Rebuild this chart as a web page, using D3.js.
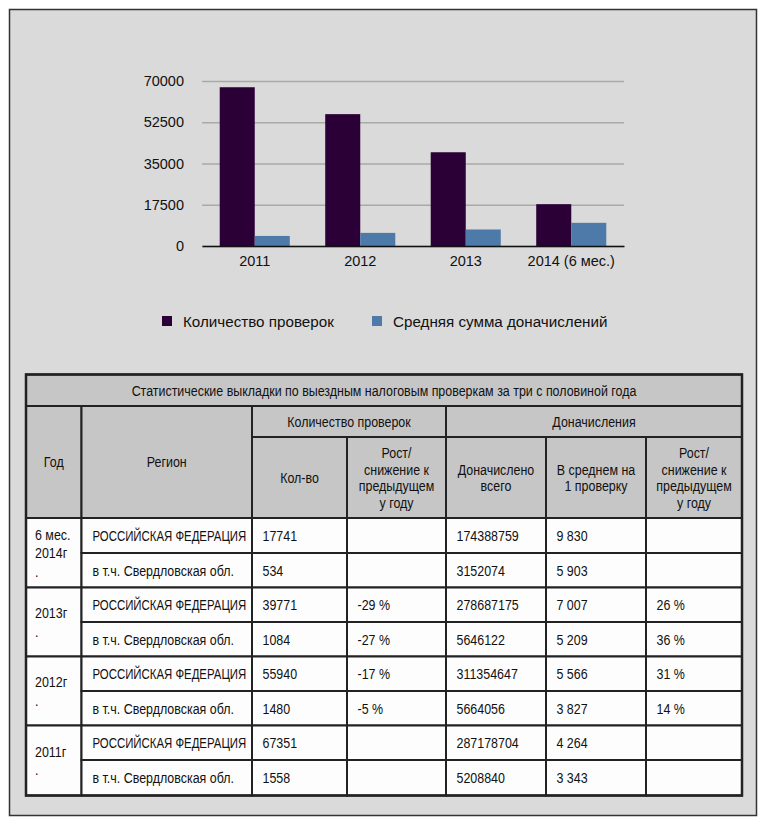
<!DOCTYPE html>
<html>
<head>
<meta charset="utf-8">
<script src="https://cdn.jsdelivr.net/npm/d3@7"></script>
<style>
  body { margin: 0; background: #fff; }
  svg { display: block; }
</style>
</head>
<body>
<div id="chart"></div>
<script>
// chart data
var categories = ["2011", "2012", "2013", "2014 (6 мес.)"];
var seriesNames = ["Количество проверок", "Средняя сумма доначислений"];
var checksCount = [67351, 55940, 39771, 17741];
var avgAdded = [4264, 5566, 7007, 9830];
var yTicks = [0, 17500, 35000, 52500, 70000];
var colors = ["#2b0036", "#4d7aa8"];

// table data
var tableTitle = "Статистические выкладки по выездным налоговым проверкам за три с половиной года";
var yearLabels = [["6 мес.", "2014г", "."], ["2013г", "."], ["2012г", "."], ["2011г", "."]];
var regions = ["РОССИЙСКАЯ ФЕДЕРАЦИЯ", "в т.ч. Свердловская обл."];
var qty = ["17741", "534", "39771", "1084", "55940", "1480", "67351", "1558"];
var qtyChange = ["", "", "-29 %", "-27 %", "-17 %", "-5 %", "", ""];
var addedTotal = ["174388759", "3152074", "278687175", "5646122", "311354647", "5664056", "287178704", "5208840"];
var addedAvg = ["9 830", "5 903", "7 007", "5 209", "5 566", "3 827", "4 264", "3 343"];
var addedChange = ["", "", "26 %", "36 %", "31 %", "14 %", "", ""];
var subHeaders = [["Кол-во"], ["Рост/", "снижение к", "предыдущем", "у году"], ["Доначислено", "всего"],
                  ["В среднем на", "1 проверку"], ["Рост/", "снижение к", "предыдущем", "у году"]];

var W = 768, H = 827;
var svg = d3.select("#chart").append("svg").attr("width", W).attr("height", H);

// frame
svg.append("rect").attr("x", 9.5).attr("y", 9.5).attr("width", 747).attr("height", 806)
  .attr("fill", "#dadada").attr("stroke", "#333").attr("stroke-width", 1.5);

var fontChart = "'Liberation Sans', Arial, sans-serif";

// ---- bar chart ----
var x0 = d3.scaleBand().domain(categories).range([202, 624]).paddingInner(0.336).paddingOuter(0.168);
var x1 = d3.scaleBand().domain(seriesNames).range([0, x0.bandwidth()]);
var y = d3.scaleLinear().domain([0, 70000]).range([246, 81]);

var yAxis = svg.append("g").attr("transform", "translate(202,0)")
  .call(d3.axisLeft(y).tickValues(yTicks).tickSize(-422).tickPadding(18).tickFormat(d3.format("d")));
yAxis.select(".domain").remove();
yAxis.selectAll("line").attr("stroke", "#a9a9a9").attr("stroke-width", 1.5);
yAxis.selectAll("text").attr("font-family", fontChart).attr("font-size", 14.5).attr("fill", "#111");

var rows = categories.map(function(c, i) { return {cat: c, vals: [checksCount[i], avgAdded[i]]}; });
var groups = svg.append("g").selectAll("g").data(rows).join("g")
  .attr("transform", function(d) { return "translate(" + x0(d.cat) + ",0)"; });
groups.selectAll("rect").data(function(d) { return d.vals.map(function(v, j) { return {s: seriesNames[j], v: v, j: j}; }); })
  .join("rect")
  .attr("x", function(d) { return x1(d.s); })
  .attr("y", function(d) { return y(d.v); })
  .attr("width", x1.bandwidth())
  .attr("height", function(d) { return y(0) - y(d.v); })
  .attr("fill", function(d) { return colors[d.j]; });

var xAxis = svg.append("g").attr("transform", "translate(0,246)")
  .call(d3.axisBottom(x0).tickSize(0).tickPadding(10));
xAxis.select(".domain").attr("stroke", "#111").attr("stroke-width", 1.5);
xAxis.selectAll("text").attr("font-family", fontChart).attr("font-size", 14.5).attr("fill", "#111");

// legend
var legX = [162, 372];
seriesNames.forEach(function(n, i) {
  svg.append("rect").attr("x", legX[i]).attr("y", 316).attr("width", 10).attr("height", 10).attr("fill", colors[i]);
  svg.append("text").attr("x", legX[i] + 21).attr("y", 326.5).text(n)
    .attr("font-family", fontChart).attr("font-size", 15.2).attr("fill", "#111");
});

// ---- table ----
var colX = [26, 81.5, 252, 347, 446, 546, 646, 742];
var rowY = [374.5, 406, 437, 518, 553, 587.5, 622, 656.5, 691, 725.5, 760, 795.5];
var tb = svg.append("g");
var cellLayer = tb.append("g"), textLayer = tb.append("g");

// condensed look: squeeze Liberation Sans horizontally
var sx = 0.83;

function cell(x1c, y1c, x2c, y2c, fill) {
  cellLayer.append("rect").attr("x", x1c).attr("y", y1c).attr("width", x2c - x1c).attr("height", y2c - y1c)
    .attr("fill", fill).attr("stroke", "#222").attr("stroke-width", 2);
}
function lines(arr, x, yc, anchor, lh, sq) {
  var y0 = yc - (arr.length - 1) * lh / 2;
  var t = textLayer.append("text").attr("font-family", fontChart).attr("font-size", 15).attr("fill", "#111")
    .attr("text-anchor", anchor)
    .attr("transform", "translate(" + x + "," + y0 + ") scale(" + (sq || sx) + ",1)");
  arr.forEach(function(s, i) {
    t.append("tspan").attr("x", 0).attr("y", i * lh).attr("dy", "0.36em").text(s);
  });
}
var hdr = "#c6c6c6";
cell(colX[0], rowY[0], colX[7], rowY[1], hdr);
lines([tableTitle], (colX[0] + colX[7]) / 2, (rowY[0] + rowY[1]) / 2, "middle", 17);
cell(colX[0], rowY[1], colX[1], rowY[3], hdr);
lines(["Год"], (colX[0] + colX[1]) / 2, (rowY[1] + rowY[3]) / 2, "middle", 17);
cell(colX[1], rowY[1], colX[2], rowY[3], hdr);
lines(["Регион"], (colX[1] + colX[2]) / 2, (rowY[1] + rowY[3]) / 2, "middle", 17);
cell(colX[2], rowY[1], colX[4], rowY[2], hdr);
lines(["Количество проверок"], (colX[2] + colX[4]) / 2, (rowY[1] + rowY[2]) / 2, "middle", 17);
cell(colX[4], rowY[1], colX[7], rowY[2], hdr);
lines(["Доначисления"], (colX[4] + colX[7]) / 2, (rowY[1] + rowY[2]) / 2, "middle", 17);
subHeaders.forEach(function(h, i) {
  cell(colX[i + 2], rowY[2], colX[i + 3], rowY[3], hdr);
  lines(h, (colX[i + 2] + colX[i + 3]) / 2, (rowY[2] + rowY[3]) / 2, "middle", 16.7);
});

var bodyCols = [null, qty, qtyChange, addedTotal, addedAvg, addedChange];
for (var r = 0; r < 8; r++) {
  var ya = rowY[r + 3], yb = rowY[r + 4];
  if (r % 2 === 0) {
    var g = r / 2;
    cell(colX[0], ya, colX[1], rowY[r + 5], "#fdfdfd");
    lines(yearLabels[g], colX[0] + 9, (ya + rowY[r + 5]) / 2, "start", 18.5);
  }
  cell(colX[1], ya, colX[2], yb, "#fdfdfd");
  lines([regions[r % 2]], colX[1] + 11, (ya + yb) / 2, "start", 17, r % 2 === 0 ? 0.76 : sx);
  for (var c = 1; c < 6; c++) {
    cell(colX[c + 1], ya, colX[c + 2], yb, "#fdfdfd");
    if (bodyCols[c][r]) lines([bodyCols[c][r]], colX[c + 1] + 10.5, (ya + yb) / 2, "start", 17);
  }
}
// outer border of table
cellLayer.append("rect").attr("x", colX[0]).attr("y", rowY[0]).attr("width", colX[7] - colX[0])
  .attr("height", rowY[11] - rowY[0]).attr("fill", "none").attr("stroke", "#222").attr("stroke-width", 2.5);
</script>
</body>
</html>
